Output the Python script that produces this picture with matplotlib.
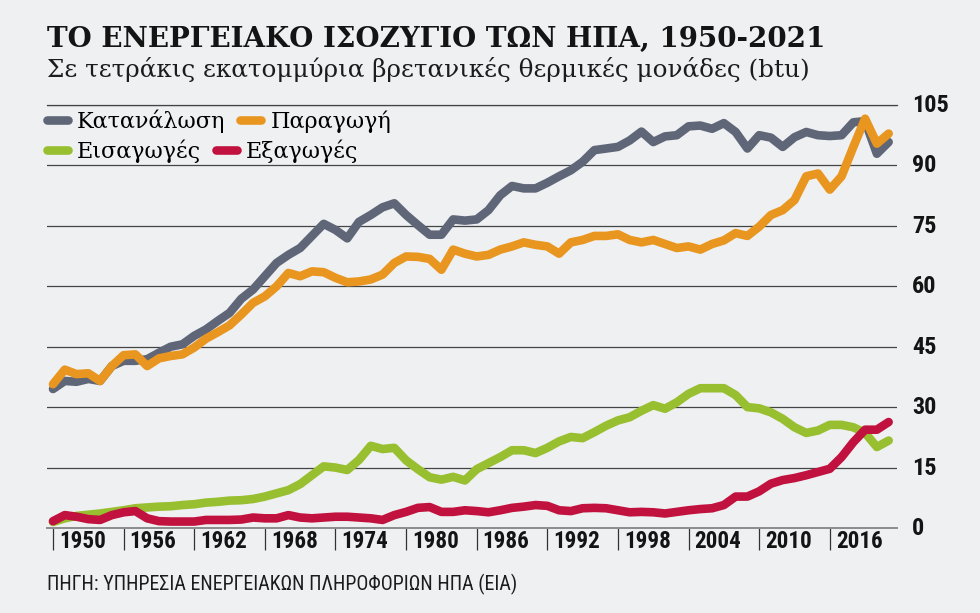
import matplotlib
matplotlib.use('Agg')
import matplotlib.pyplot as plt
from matplotlib.lines import Line2D
from matplotlib.transforms import ScaledTranslation
from matplotlib import font_manager as fm

# ---------------- data ----------------
years = list(range(1950, 2022))

consumption = [34.5, 36.5, 36.3, 37.0, 36.5, 40.2, 41.5, 41.5, 41.9, 43.5,
               45.0, 45.6, 47.7, 49.3, 51.4, 53.4, 56.9, 59.2, 62.5, 65.8,
               67.8, 69.5, 72.5, 75.5, 74.0, 71.9, 76.0, 77.7, 79.6, 80.6,
               77.7, 75.2, 72.8, 72.8, 76.6, 76.3, 76.6, 78.9, 82.6, 84.9,
               84.3, 84.3, 85.7, 87.3, 88.8, 90.9, 93.8, 94.2, 94.6, 96.2,
               98.4, 95.8, 97.2, 97.5, 99.7, 99.9, 99.1, 100.5, 98.3, 94.2,
               97.5, 96.9, 94.6, 97.0, 98.3, 97.5, 97.3, 97.5, 100.7, 101.0,
               92.9, 95.8]

production = [35.7, 39.3, 38.2, 38.4, 36.5, 40.2, 42.9, 43.1, 40.2, 42.1,
              42.7, 43.1, 44.8, 47.0, 48.6, 50.3, 53.0, 55.9, 57.5, 60.0,
              63.3, 62.5, 63.7, 63.5, 62.1, 61.0, 61.2, 61.7, 62.9, 65.8,
              67.4, 67.3, 66.8, 64.1, 69.1, 68.1, 67.4, 67.8, 69.1, 69.9,
              70.9, 70.3, 69.9, 68.1, 70.9, 71.5, 72.5, 72.5, 72.9, 71.5,
              70.9, 71.5, 70.5, 69.5, 69.9, 69.1, 70.5, 71.4, 73.2, 72.5,
              74.8, 77.7, 78.9, 81.4, 87.3, 88.0, 84.0, 87.3, 94.6, 101.6,
              95.4, 97.9]

imports_ = [1.5, 2.4, 3.0, 3.3, 3.6, 4.0, 4.4, 4.9, 5.1, 5.3,
            5.4, 5.7, 5.9, 6.3, 6.5, 6.8, 6.9, 7.2, 7.8, 8.6,
            9.4, 10.9, 13.1, 15.3, 15.0, 14.4, 16.9, 20.4, 19.6, 19.9,
            16.8, 14.6, 12.6, 12.0, 12.7, 11.8, 14.6, 16.1, 17.6, 19.3,
            19.3, 18.6, 19.9, 21.5, 22.6, 22.3, 23.8, 25.4, 26.7, 27.5,
            29.1, 30.5, 29.6, 31.2, 33.3, 34.7, 34.7, 34.7, 33.0, 30.0,
            29.7, 28.7, 27.1, 25.0, 23.6, 24.2, 25.6, 25.6, 25.0, 23.6,
            20.1, 21.7]

exports = [1.7, 3.2, 2.8, 2.2, 2.0, 3.2, 3.9, 4.2, 2.4, 1.7,
           1.6, 1.6, 1.6, 2.0, 2.0, 2.0, 2.1, 2.6, 2.4, 2.4,
           3.2, 2.6, 2.4, 2.6, 2.8, 2.8, 2.6, 2.4, 2.0, 3.2,
           4.0, 5.0, 5.2, 4.0, 4.0, 4.4, 4.2, 3.9, 4.4, 5.0,
           5.3, 5.7, 5.5, 4.4, 4.2, 4.9, 5.0, 4.9, 4.4, 3.9,
           4.0, 3.9, 3.6, 4.0, 4.4, 4.7, 4.9, 5.7, 7.8, 7.8,
           9.1, 11.0, 11.9, 12.4, 13.1, 13.9, 14.7, 17.6, 21.3, 24.4,
           24.4, 26.3]

series_labels = ['Κατανάλωση', 'Παραγωγή', 'Εισαγωγές', 'Εξαγωγές']
series_colors = ['#5f6677', '#e8961f', '#98bf2f', '#c1123f']

x_ticks = list(range(1950, 2017, 6))
x_tick_labels = [str(y) for y in x_ticks]
y_ticks = list(range(0, 106, 15))
y_tick_labels = [str(v) for v in y_ticks]

title = 'ΤΟ ΕΝΕΡΓΕΙΑΚΟ ΙΣΟΖΥΓΙΟ ΤΩΝ ΗΠΑ, 1950-2021'
subtitle = 'Σε τετράκις εκατομμύρια βρετανικές θερμικές μονάδες (btu)'
source = 'ΠΗΓΗ: ΥΠΗΡΕΣΙΑ ΕΝΕΡΓΕΙΑΚΩΝ ΠΛΗΡΟΦΟΡΙΩΝ ΗΠΑ (ΕΙΑ)'

# ---------------- fonts ----------------
_names = {f.name for f in fm.fontManager.ttflist}
COND, K = 'Roboto', 0.82
for cand, k in [('Roboto Condensed', 0.95), ('Liberation Sans Narrow', 1.0),
                ('Open Sans Condensed', 0.95)]:
    if cand in _names:
        COND, K = cand, k
        break
SERIF = 'DejaVu Serif'

BG = '#eff0f2'
INK = '#141414'

fig = plt.figure(figsize=(9.8, 6.13), dpi=100, facecolor=BG)
W, H = 980, 613
ax = fig.add_axes([47 / W, 1 - 528 / H, 850 / W, 423 / H])
ax.set_facecolor(BG)
ax.set_xlim(1949.49, 2021.71)
ax.set_ylim(0, 105)

for vals, c in zip([consumption, production, imports_, exports], series_colors):
    ax.plot(years, vals, color=c, lw=6.2, solid_capstyle='round',
            solid_joinstyle='round', clip_on=False, zorder=3)

# y axis: grid + right labels
ax.set_yticks(y_ticks)
ax.set_yticklabels(y_tick_labels, fontfamily=COND, fontweight='bold',
                   fontsize=18.3 * K, color=INK)
ax.yaxis.tick_right()
ax.tick_params(axis='y', length=0, pad=11)
ax.yaxis.grid(True, color='#454545', lw=0.9)
ax.set_axisbelow(True)
yoff = ScaledTranslation(0, 2 / 100, fig.dpi_scale_trans)
for lab in ax.get_yticklabels():
    lab.set_transform(lab.get_transform() + yoff)

for s in ['left', 'right']:
    ax.spines[s].set_visible(False)
ax.spines['top'].set_color('#454545')
ax.spines['top'].set_linewidth(0.9)
ax.spines['bottom'].set_color('#8c8c8c')
ax.spines['bottom'].set_linewidth(1.4)

# x axis: ticks with labels to the right of each tick
ax.set_xticks(x_ticks)
ax.set_xticklabels(x_tick_labels, fontfamily=COND, fontweight='bold',
                   fontsize=17.5 * K, color=INK, ha='left', va='center')
ax.tick_params(axis='x', length=16, width=0.9, color='#333333', pad=-6,
               direction='out')
offset = ScaledTranslation(6 / 100, 0, fig.dpi_scale_trans)
for lab in ax.get_xticklabels():
    lab.set_transform(lab.get_transform() + offset)

# legend (two rows)
handles = [Line2D([], [], color=c, lw=6.2, solid_capstyle='round') for c in series_colors]
common = dict(loc='center left', ncol=2, frameon=False,
              prop={'family': SERIF, 'size': 16},
              handlelength=0.93, handletextpad=0.42, columnspacing=0.68,
              borderpad=0, borderaxespad=0)
fig.legend(handles[:2], series_labels[:2], bbox_to_anchor=(47 / W, 1 - 121 / H), **common)
fig.legend(handles[2:], series_labels[2:], bbox_to_anchor=(47 / W, 1 - 151 / H), **common)

# texts
fig.text(47 / W, 1 - 47 / H, title, fontfamily=SERIF, fontweight='bold',
         fontsize=20, va='baseline', ha='left', color=INK)
fig.text(47 / W, 1 - 77 / H, subtitle, fontfamily=SERIF, fontsize=17.7,
         va='baseline', ha='left', color='#1c1c1c')
fig.text(47 / W, 1 - 590 / H, source, fontfamily=COND, fontsize=15.2 * K,
         va='baseline', ha='left', color='#1c1c1c')

fig.savefig('out.png', dpi=100, facecolor=BG)
